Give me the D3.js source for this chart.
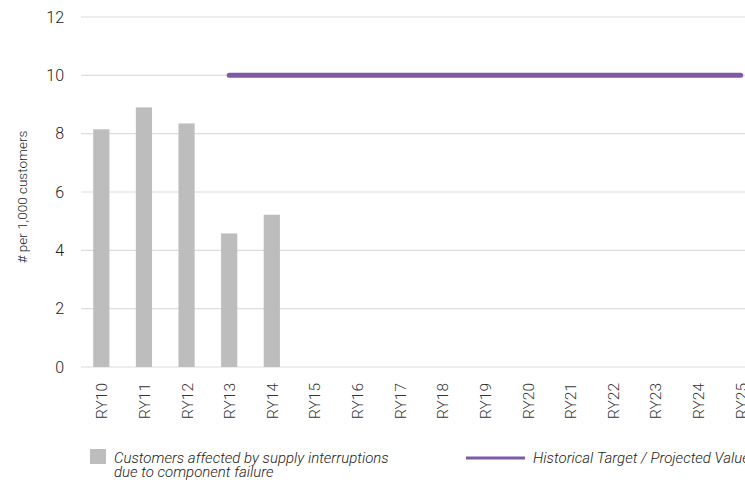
<!DOCTYPE html>
<html><head><meta charset="utf-8">
<script src="https://cdn.jsdelivr.net/npm/d3@7"></script>
<style>body{margin:0;background:#fff;} svg{display:block;}</style>
</head><body>
<svg id="c" width="745" height="480"></svg>
<script>
const categories = ["RY10","RY11","RY12","RY13","RY14","RY15","RY16","RY17","RY18","RY19","RY20","RY21","RY22","RY23","RY24","RY25"];
const barValues = [8.15, 8.9, 8.35, 4.58, 5.22, null, null, null, null, null, null, null, null, null, null, null];
const targetValues = [null, null, null, 10, 10, 10, 10, 10, 10, 10, 10, 10, 10, 10, 10, 10];
const yTicks = [0, 2, 4, 6, 8, 10, 12];
const barLabel = ["Customers affected by supply interruptions", "due to component failure"];
const lineLabel = "Historical Target / Projected Value";
const yTitle = "# per 1,000 customers";

const svg = d3.select("#c");
const font = "Roboto, 'Liberation Sans', Arial, sans-serif";
const x = d3.scaleBand().domain(categories).range([80, 762]).paddingInner(0.62).paddingOuter(0.31);
const y = d3.scaleLinear().domain([0, 12]).range([367, 17]);

// gridlines
svg.append("g").selectAll("line").data(yTicks).join("line")
  .attr("x1", 81).attr("x2", 745)
  .attr("y1", d => y(d)).attr("y2", d => y(d))
  .attr("stroke", "#dcdcdc").attr("stroke-width", 1.2);

// y tick labels
svg.append("g").selectAll("text").data(yTicks).join("text")
  .attr("x", 64).attr("y", d => y(d)).attr("dy", "0.36em")
  .attr("text-anchor", "end").attr("font-family", font).attr("font-weight", 300).attr("font-size", 16)
  .attr("fill", "#222").text(d => d);

// y title
svg.append("text").attr("transform", "translate(27,197) rotate(-90)")
  .attr("text-anchor", "middle").attr("font-family", font).attr("font-weight", 300).attr("font-size", 13.5)
  .attr("fill", "#222").text(yTitle);

// bars
svg.append("g").selectAll("rect").data(categories.map((c, i) => ({c, v: barValues[i]})).filter(d => d.v != null))
  .join("rect")
  .attr("x", d => x(d.c)).attr("width", x.bandwidth())
  .attr("y", d => y(d.v)).attr("height", d => y(0) - y(d.v))
  .attr("fill", "#bdbdbe");

// target line
const lineData = categories.map((c, i) => ({c, v: targetValues[i]})).filter(d => d.v != null);
svg.append("path").datum(lineData)
  .attr("d", d3.line().x(d => x(d.c) + x.bandwidth() / 2).y(d => y(d.v)))
  .attr("fill", "none").attr("stroke", "#7f5aa6").attr("stroke-width", 5).attr("stroke-linecap", "round");

// x labels
svg.append("g").selectAll("text").data(categories).join("text")
  .attr("transform", d => `translate(${x(d) + x.bandwidth() / 2 + 6},383) rotate(-90)`)
  .attr("text-anchor", "end").attr("font-family", font).attr("font-weight", 300).attr("font-size", 15.5)
  .attr("fill", "#333").text(d => d);

// legend
svg.append("rect").attr("x", 90).attr("y", 449).attr("width", 16).attr("height", 15).attr("fill", "#bdbdbe");
svg.append("text").attr("font-family", font).attr("font-weight", 300).attr("font-size", 15).attr("font-style", "italic").attr("fill", "#222")
  .selectAll("tspan").data(barLabel).join("tspan")
  .attr("x", 114).attr("y", (d, i) => 463 + i * 14).text(d => d);
svg.append("line").attr("x1", 466).attr("x2", 525).attr("y1", 458).attr("y2", 458)
  .attr("stroke", "#7f5aa6").attr("stroke-width", 3);
svg.append("text").attr("x", 533).attr("y", 463).attr("font-family", font).attr("font-weight", 300).attr("font-size", 15)
  .attr("font-style", "italic").attr("fill", "#222").text(lineLabel);
</script>
</body></html>
